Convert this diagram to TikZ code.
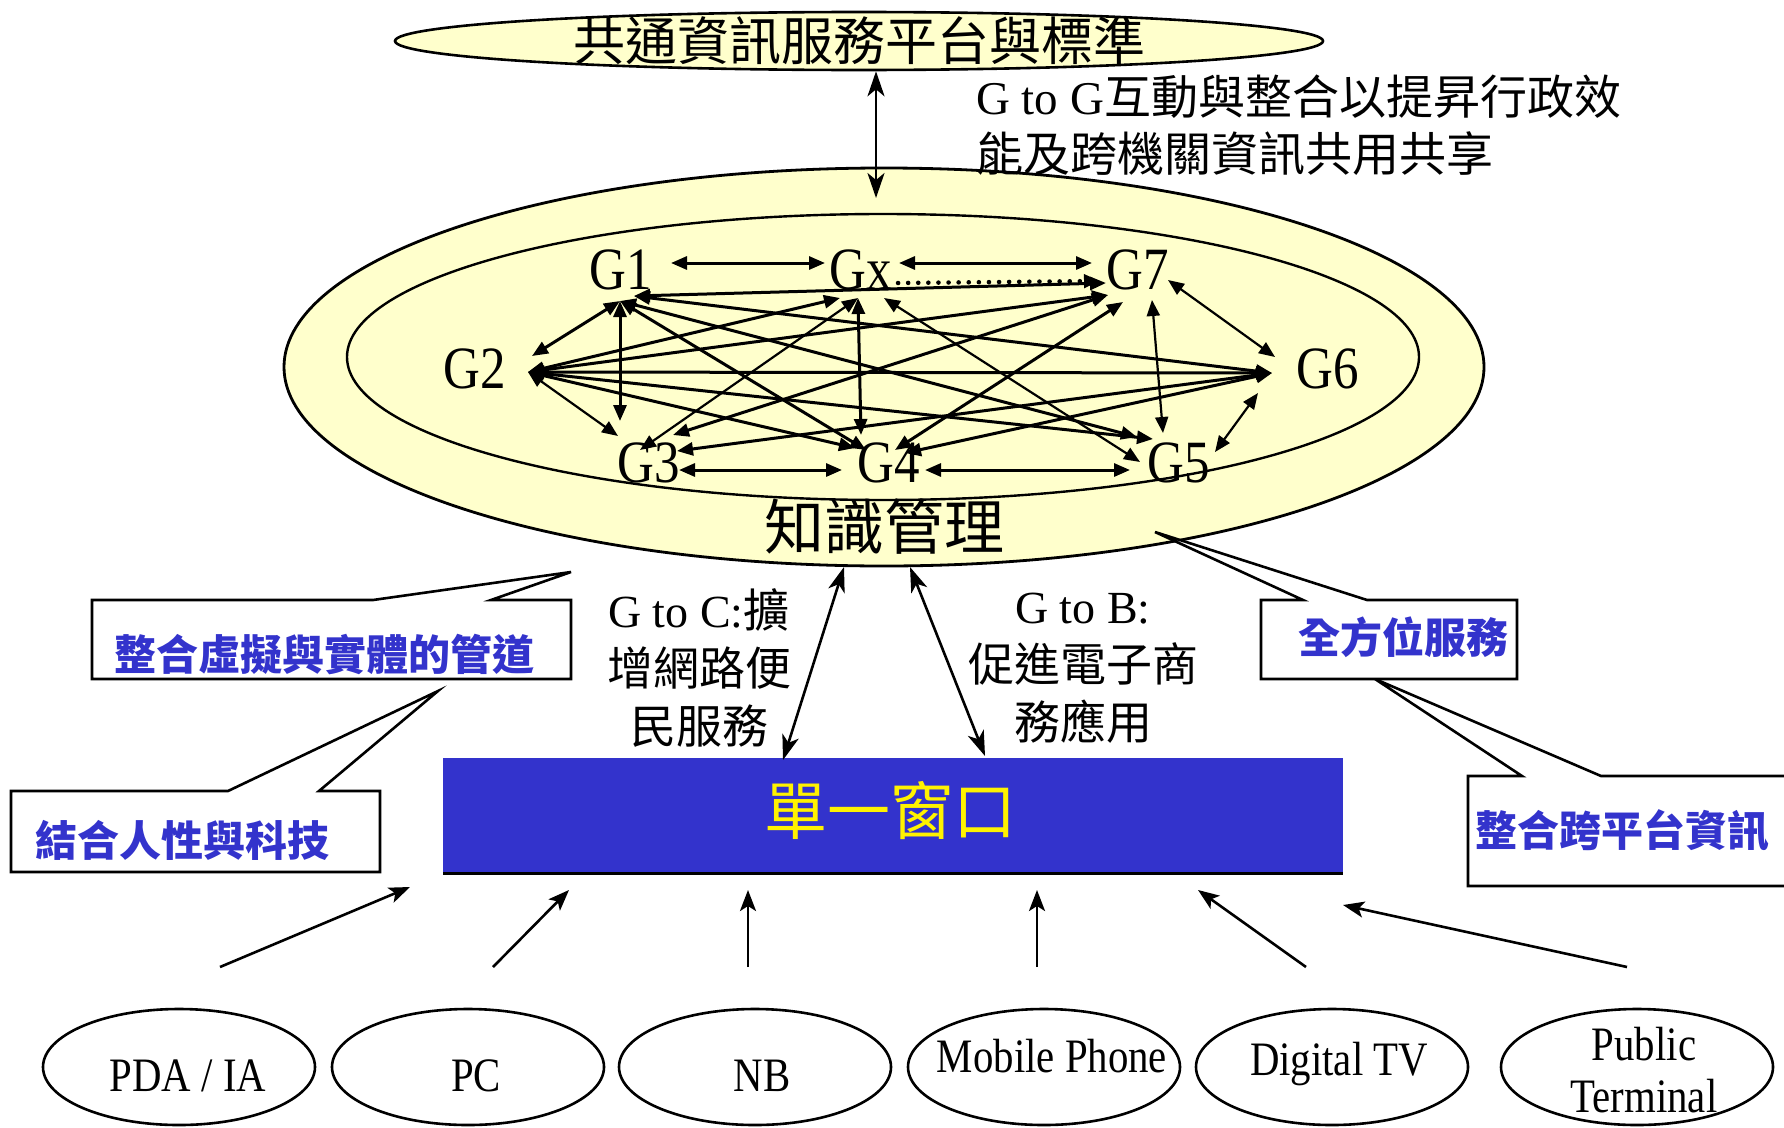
\documentclass[tikz,border=0pt]{standalone}
\usepackage{fontspec}
\setmainfont{Liberation Serif}
\newfontfamily\cjk{Noto Sans CJK TC}
\newfontfamily\cond[FakeStretch=0.85]{Liberation Serif}
\usetikzlibrary{arrows.meta,shapes.geometric}
\definecolor{cream}{HTML}{FFFFCC}
\definecolor{winblue}{HTML}{3333CC}
\definecolor{txtblue}{HTML}{3333CC}
\newcommand\myfs[2]{\fontsize{#1}{#2}\selectfont}
\begin{document}
\begin{tikzpicture}[x=1pt,y=-1pt,
  net/.style={line width=3pt, >={Triangle[length=16pt,width=13pt]}, <->},
  thinnet/.style={net, line width=2.2pt},
  dotnet/.style={line width=4.5pt, line cap=round, dash pattern=on 0.1pt off 10pt, >={Triangle[length=16pt,width=13pt]}, ->},
  bigarr/.style={line width=2.6pt, >={Stealth[length=25pt,width=17pt,inset=7pt]}, <->},
  devarr/.style={line width=2.6pt, -{Stealth[length=21pt,width=16pt,inset=5pt]}},
  glab/.style={inner sep=0pt, font=\cond\myfs{60}{60}},
  devlab/.style={inner sep=0pt, align=center, font=\cond\myfs{48}{52}},
  devell/.style={ellipse, draw, line width=2.6pt, minimum width=272pt, minimum height=116pt, inner sep=0pt},
  callout/.style={draw, fill=white, line width=2.6pt, line join=miter},
  calltext/.style={inner sep=0pt, text=txtblue, font=\cjk\bfseries\myfs{42}{42}},
  plaintext/.style={inner sep=0pt, align=center, font=\myfs{46}{58}}
]
\useasboundingbox (0,0) rectangle (1784,1127);

% top platform ellipse
\node[ellipse, draw, fill=cream, line width=2.6pt, minimum width=928pt, minimum height=58pt, inner sep=0pt] (platform) at (859,41) {};
\node[inner sep=0pt, font=\cjk\myfs{52}{52}] (platformtxt) at (859,41) {共通資訊服務平台與標準};

% knowledge management ellipses
\node[ellipse, draw, fill=cream, line width=2.8pt, minimum width=1200pt, minimum height=398pt, inner sep=0pt] (km) at (884,367) {};
\node[ellipse, draw, fill=cream, line width=2.4pt, minimum width=1072pt, minimum height=286pt, inner sep=0pt] (kmin) at (883,357) {};
\node[inner sep=0pt, font=\cjk\myfs{60}{60}] (kmtxt) at (884,526) {知識管理};

% platform <-> km arrow
\coordinate (topB) at (876,198);
\draw[bigarr] (platform.south -| topB) -- (topB);

% G to G text
\node[inner sep=0pt, anchor=west, align=left, font=\myfs{47}{57}] (gtog) at (976,125)
  {G to G{\cjk 互動與整合以提昇行政效}\\{\cjk 能及跨機關資訊共用共享}};

% anchors of network
\coordinate (g1r) at (671,263);
\coordinate (g1h) at (620,301);
\coordinate (g1a) at (634,296);
\coordinate (gxl) at (825,263);
\coordinate (gxr) at (899,263);
\coordinate (gxd) at (898,283);
\coordinate (gxh) at (858,298);
\coordinate (gxa) at (840,298);
\coordinate (gxb) at (884,298);
\coordinate (g7l) at (1092,263);
\coordinate (g7d) at (1100,281);
\coordinate (g7a) at (1106,283);
\coordinate (g7h) at (1108,295);
\coordinate (g7b) at (1123,302);
\coordinate (g7v) at (1152,300);
\coordinate (g7e) at (1168,280);
\coordinate (g2a) at (532,356);
\coordinate (g2h) at (528,372);
\coordinate (g6h) at (1272,373);
\coordinate (g6t) at (1275,357);
\coordinate (g6b) at (1258,393);
\coordinate (g3t) at (620,421);
\coordinate (g3l) at (618,436);
\coordinate (g3x) at (640,450);
\coordinate (g3r) at (673,435);
\coordinate (g3s) at (677,451);
\coordinate (g3e) at (679,470);
\coordinate (g4t) at (861,435);
\coordinate (g4a) at (855,448);
\coordinate (g4b) at (866,450);
\coordinate (g4c) at (895,450);
\coordinate (g4d) at (905,453);
\coordinate (g4w) at (842,470);
\coordinate (g4e) at (925,470);
\coordinate (g5a) at (1137,437);
\coordinate (g5b) at (1153,439);
\coordinate (g5x) at (1140,462);
\coordinate (g5v) at (1163,433);
\coordinate (g5r) at (1215,452);
\coordinate (g5w) at (1130,470);

% network edges
\draw[net] (g1r) -- (gxl);
\draw[net] (gxr) -- (g7l);
\draw[dotnet] (gxd) -- (g7d);
\draw[net] (g1a) -- (g7a);
\draw[net] (g1h) -- (g2a);
\draw[net] (g1h) -- (g3t);
\draw[net] (g1h) -- (g4b);
\draw[net] (g1h) -- (g5a);
\draw[net] (g1a) -- (g6h);
\draw[net] (gxa) -- (g2h);
\draw[thinnet] (gxh) -- (g3x);
\draw[net] (gxh) -- (g4t);
\draw[thinnet] (gxb) -- (g5x);
\draw[net] (g7h) -- (g2h);
\draw[net] (g7h) -- (g3r);
\draw[net] (g7b) -- (g4c);
\draw[thinnet] (g7v) -- (g5v);
\draw[thinnet] (g7e) -- (g6t);
\draw[net] (g2h) -- (g6h);
\draw[thinnet] (g2h) -- (g3l);
\draw[net] (g2h) -- (g4a);
\draw[net] (g2h) -- (g5b);
\draw[net] (g6h) -- (g3s);
\draw[net] (g6h) -- (g4d);
\draw[thinnet] (g6b) -- (g5r);
\draw[net] (g3e) -- (g4w);
\draw[net] (g4e) -- (g5w);

% G labels
\node[glab] (G1) at (621,270) {G1};
\node[glab] (Gx) at (861,270) {Gx};
\node[glab] (G7) at (1138,270) {G7};
\node[glab] (G2) at (475,369) {G2};
\node[glab] (G6) at (1328,369) {G6};
\node[glab] (G3) at (649,463) {G3};
\node[glab] (G4) at (889,463) {G4};
\node[glab] (G5) at (1179,463) {G5};

% callouts
\draw[callout] (92,600) -- (373,600) -- (571,572) -- (491,600) -- (571,600) -- (571,679) -- (92,679) -- cycle;
\node[calltext] (c1) at (324,654) {整合虛擬與實體的管道};
\draw[callout] (11,791) -- (228,791) -- (438,691) -- (319,791) -- (380,791) -- (380,872) -- (11,872) -- cycle;
\node[calltext] (c2) at (182,840) {結合人性與科技};
\draw[callout] (1468,776) -- (1522,776) -- (1375,679) -- (1601,776) -- (1800,776) -- (1800,886) -- (1468,886) -- cycle;
\node[calltext] (c4) at (1622,831) {整合跨平台資訊};
\draw[callout] (1261,600) -- (1303,600) -- (1155,532) -- (1367,600) -- (1517,600) -- (1517,679) -- (1261,679) -- cycle;
\node[calltext] (c3) at (1403,637) {全方位服務};

% single window
\fill[black] (443,866) rectangle (1343,875);
\node[rectangle, fill=winblue, minimum width=900pt, minimum height=114pt, inner sep=0pt] (win) at (893,815) {};
\node[inner sep=0pt, text=yellow, font=\cjk\myfs{63}{63}] (wintxt) at (890,811) {單一窗口};

% G to C and G to B
\coordinate (gcA) at (844,567);
\coordinate (gcB) at (783,760);
\coordinate (gbA) at (910,567);
\coordinate (gbB) at (985,756);
\draw[bigarr] (gcA) -- (gcB);
\draw[bigarr] (gbA) -- (gbB);
\node[plaintext] (gtoc) at (699,668) {G to C:{\cjk 擴}\\{\cjk 增網路便}\\{\cjk 民服務}};
\node[plaintext] (gtob) at (1083,668) {G to B:\\{\cjk 促進電子商}\\{\cjk 務應用}};

% devices
\node[devell] (pda) at (179,1067) {};
\node[devell] (pc) at (468,1067) {};
\node[devell] (nb) at (755,1067) {};
\node[devell] (mob) at (1044,1067) {};
\node[devell] (dtv) at (1332,1067) {};
\node[devell] (pub) at (1637,1067) {};
\node[devlab] (pdal) at (188,1076) {PDA / IA};
\node[devlab] (pcl) at (476,1076) {PC};
\node[devlab] (nbl) at (762,1076) {NB};
\node[devlab] (mobl) at (1052,1056) {Mobile Phone};
\node[devlab] (dtvl) at (1339,1064) {Digital TV};
\node[devlab] (publ) at (1644,1070) {Public\\Terminal};

% device arrows
\coordinate (d1s) at (220,967); \coordinate (d1e) at (410,887);
\coordinate (d2s) at (493,967); \coordinate (d2e) at (569,890);
\coordinate (d3s) at (748,967); \coordinate (d3e) at (748,890);
\coordinate (d4s) at (1037,967); \coordinate (d4e) at (1037,890);
\coordinate (d5s) at (1306,967); \coordinate (d5e) at (1198,890);
\coordinate (d6s) at (1627,967); \coordinate (d6e) at (1343,905);
\draw[devarr] (d1s) -- (d1e);
\draw[devarr] (d2s) -- (d2e);
\draw[devarr] (d3s) -- (d3e);
\draw[devarr] (d4s) -- (d4e);
\draw[devarr] (d5s) -- (d5e);
\draw[devarr] (d6s) -- (d6e);
\end{tikzpicture}
\end{document}
